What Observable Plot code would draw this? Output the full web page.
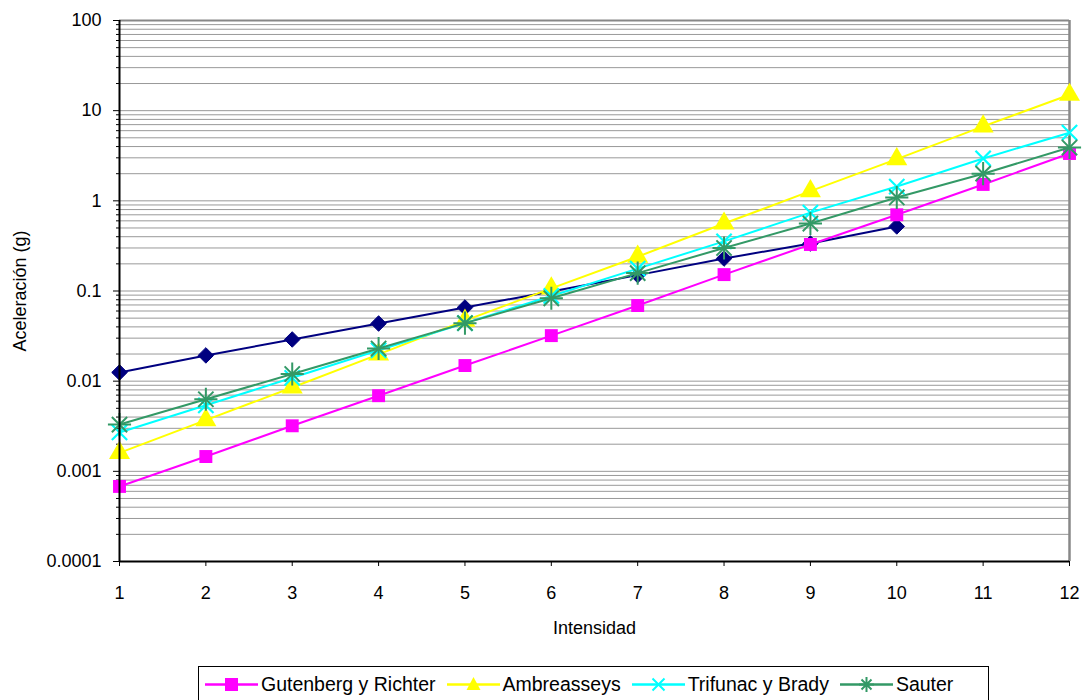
<!DOCTYPE html>
<html>
<head>
<meta charset="utf-8">
<script src="https://cdn.jsdelivr.net/npm/d3@7"></script>
<script src="https://cdn.jsdelivr.net/npm/@observablehq/plot@0.6"></script>
<style>
  body { margin: 0; background: #fff; font-family: "Liberation Sans", Arial, sans-serif; }
  #chart { width: 1089px; }
  .legend { position: absolute; left: 198px; top: 666px; width: 791px; height: 37px; border: 1px solid #000; box-sizing: border-box;
    display: flex; align-items: center; justify-content: flex-start; padding-left: 6px; font-size: 19.5px; color: #000; }
  .item { display: flex; align-items: center; margin-right: 11px; }
  .item svg { margin-right: 3px; }
</style>
</head>
<body>
<div id="chart"></div>
<script>
const intensidad = [1, 2, 3, 4, 5, 6, 7, 8, 9, 10, 11, 12];
const serie1 = [0.0125, 0.0193, 0.029, 0.0436, 0.0656, 0.099, 0.15, 0.229, 0.336, 0.52];
const gutenberg = [0.00068, 0.00146, 0.0032, 0.0069, 0.0149, 0.032, 0.069, 0.152, 0.328, 0.70, 1.52, 3.35];
const ambraseys = [0.0016, 0.0037, 0.0085, 0.0198, 0.047, 0.107, 0.24, 0.56, 1.28, 2.9, 6.7, 15.0];
const trifunac = [0.0027, 0.0054, 0.0109, 0.022, 0.044, 0.088, 0.177, 0.355, 0.74, 1.44, 2.95, 5.7];
const sauter = [0.0033, 0.0063, 0.0120, 0.023, 0.044, 0.083, 0.158, 0.30, 0.56, 1.09, 2.0, 3.9];
const yTicks = [0.0001, 0.001, 0.01, 0.1, 1, 10, 100];
const yTickLabels = ["0.0001", "0.001", "0.01", "0.1", "1", "10", "100"];
const names = ["Serie 1", "Gutenberg y Richter", "Ambreasseys", "Trifunac y Brady", "Sauter"];
const colors = ["#000080", "#FF00FF", "#FFFF00", "#00FFFF", "#339966"];

const allSeries = [serie1, gutenberg, ambraseys, trifunac, sauter];
const rows = [];
allSeries.forEach((vals, s) => vals.forEach((v, i) => rows.push({x: intensidad[i], y: v, s})));
const bySeries = s => rows.filter(d => d.s === s);

const minor = [];
for (let e = -4; e < 2; e++) for (let k = 2; k <= 9; k++) minor.push(k * Math.pow(10, e));
const grid = minor.concat(yTicks.slice(1, -1));

const font = { fontSize: 18 };
const chart = Plot.plot({
  width: 1089, height: 660,
  marginLeft: 119, marginRight: 20, marginTop: 20, marginBottom: 99,
  style: { fontFamily: "Liberation Sans, Arial, sans-serif", fontSize: "18px", color: "#000", background: "#fff", overflow: "visible" },
  x: { type: "linear", domain: [1, 12] },
  y: { type: "log", domain: [0.0001, 100] },
  marks: [
    Plot.ruleY(grid, { stroke: "#999", strokeWidth: 1 }),
    Plot.ruleY([100], { stroke: "#888", strokeWidth: 2 }),
    Plot.ruleX([12], { stroke: "#888", strokeWidth: 2.5 }),
    Plot.axisY(minor, { tickSize: 3, tickFormat: () => "", label: null, stroke: "#000" }),
    Plot.axisY(yTicks, { tickSize: 6, tickPadding: 12, tickFormat: d => yTickLabels[yTicks.indexOf(d)], ...font,
      label: "Aceleración (g)", labelAnchor: "center", labelArrow: "none", labelOffset: 106 }),
    Plot.axisX(intensidad, { tickSize: 5, tickPadding: 20, tickFormat: d => String(d), ...font,
      label: "Intensidad", labelAnchor: "center", labelArrow: "none", labelOffset: 72 }),
    Plot.line(bySeries(0), { x: "x", y: "y", stroke: colors[0], strokeWidth: 2 }),
    Plot.dot(bySeries(0), { x: "x", y: "y", symbol: "diamond2", r: 7, fill: colors[0], stroke: colors[0], strokeWidth: 1 }),
    Plot.line(bySeries(1), { x: "x", y: "y", stroke: colors[1], strokeWidth: 2 }),
    Plot.dot(bySeries(1), { x: "x", y: "y", symbol: "square", r: 7.3, fill: colors[1], stroke: "none" }),
    Plot.line(bySeries(2), { x: "x", y: "y", stroke: colors[2], strokeWidth: 2 }),
    Plot.dot(bySeries(2), { x: "x", y: "y", symbol: "triangle", r: 7.8, fill: colors[2], stroke: "none" }),
    Plot.line(bySeries(3), { x: "x", y: "y", stroke: colors[3], strokeWidth: 2 }),
    Plot.dot(bySeries(3), { x: "x", y: "y", symbol: "times", r: 7, stroke: colors[3], strokeWidth: 2.2 }),
    Plot.line(bySeries(4), { x: "x", y: "y", stroke: colors[4], strokeWidth: 2 }),
    Plot.dot(bySeries(4), { x: "x", y: "y", symbol: "times", r: 7, stroke: colors[4], strokeWidth: 2 }),
    Plot.dot(bySeries(4), { x: "x", y: "y", symbol: "plus", r: 7.5, stroke: colors[4], strokeWidth: 2 }),
    Plot.ruleX([1], { stroke: "#000", strokeWidth: 2 }),
    Plot.ruleY([0.0001], { stroke: "#000", strokeWidth: 2 })
  ]
});
document.getElementById("chart").appendChild(chart);

// legend (4 named series, as in the reference)
const legend = document.createElement("div");
legend.className = "legend";
const symbols = [null, "square", "triangle", "times", "asterisk8"];
for (let s = 1; s < 5; s++) {
  const item = document.createElement("div");
  item.className = "item";
  const c = colors[s];
  let sym = "";
  if (symbols[s] === "square") sym = `<rect x="20" y="6" width="13" height="13" fill="${c}"/>`;
  if (symbols[s] === "triangle") sym = `<path d="M26.5,5 L33.5,18 L19.5,18 Z" fill="${c}"/>`;
  if (symbols[s] === "times") sym = `<path d="M20.5,6.5 L32.5,18.5 M32.5,6.5 L20.5,18.5" stroke="${c}" stroke-width="2"/>`;
  if (symbols[s] === "asterisk8") sym = `<path d="M21.5,7.5 L31.5,17.5 M31.5,7.5 L21.5,17.5 M26.5,5 L26.5,20 M19,12.5 L34,12.5" stroke="${c}" stroke-width="2"/>`;
  item.innerHTML = `<svg width="53" height="25"><line x1="0" x2="53" y1="12.5" y2="12.5" stroke="${c}" stroke-width="2.5"/>${sym}</svg><span>${names[s]}</span>`;
  legend.appendChild(item);
}
document.body.appendChild(legend);
</script>
</body>
</html>
